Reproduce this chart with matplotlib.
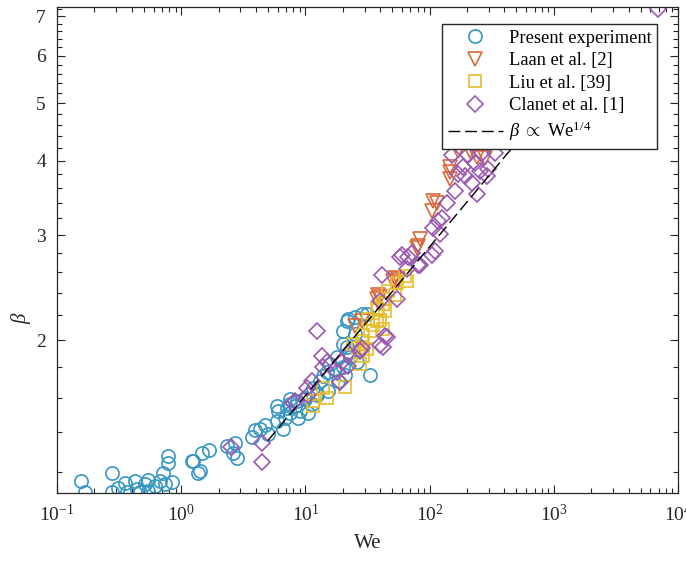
import numpy as np
import matplotlib
matplotlib.use("Agg")
import matplotlib.pyplot as plt
from matplotlib.ticker import LogLocator, NullFormatter

plt.rcParams["font.family"] = ["Liberation Serif", "DejaVu Serif"]
plt.rcParams["mathtext.fontset"] = "custom"
plt.rcParams["mathtext.rm"] = "Liberation Serif"
plt.rcParams["mathtext.it"] = "Liberation Serif:italic"
plt.rcParams["mathtext.bf"] = "Liberation Serif:bold"

# Present experiment (circles)
we_present = [0.155, 0.168, 0.275, 0.275, 0.31, 0.353, 0.364, 0.425, 0.44, 0.466,
              0.511, 0.54, 0.54, 0.615, 0.675, 0.713, 0.741, 0.84, 0.783, 0.783,
              1.22, 1.365, 1.245, 1.416, 1.46, 1.674, 2.33, 2.61, 2.79, 2.71,
              3.7, 3.93, 4.31, 4.73, 5.0, 5.9, 6.02, 6.6, 6.85, 7.52,
              8.25, 8.71, 7.52, 9.93, 10.5, 11.3, 12.4, 22.0, 28.6, 25.1,
              21.6, 17.9, 17.3, 14.9, 13.1, 11.5, 9.9, 8.5, 7.1, 20.8,
              22.9, 20.1, 26.0, 18.3, 15.2, 12.4, 9.05, 33.1, 31.3, 20.1,
              20.1, 15.8, 13.9, 5.9, 7.5, 21.6, 25.1]
beta_present = [1.158, 1.11, 1.195, 1.112, 1.13, 1.15, 1.11, 1.16, 1.125, 1.11,
                1.145, 1.165, 1.114, 1.136, 1.158, 1.195, 1.145, 1.155, 1.275, 1.243,
                1.255, 1.195, 1.255, 1.204, 1.29, 1.305, 1.326, 1.29, 1.266, 1.345,
                1.375, 1.41, 1.42, 1.44, 1.39, 1.46, 1.52, 1.42, 1.48, 1.51,
                1.55, 1.48, 1.59, 1.59, 1.51, 1.56, 1.62, 2.17, 2.21, 2.05,
                1.95, 1.87, 1.79, 1.77, 1.71, 1.66, 1.60, 1.58, 1.54, 1.75,
                1.87, 1.80, 1.84, 1.71, 1.64, 1.63, 1.52, 1.75, 2.21, 2.07,
                1.97, 1.82, 1.74, 1.55, 1.56, 2.15, 2.19]

# Laan et al. [2] (triangles)
we_laan = [80.7, 79, 52.6, 55.7, 39.9, 37.7, 28.6, 146, 146, 146,
           106, 115, 104, 241, 279, 83.7, 54.7, 50.7, 25.1, 38.4,
           29.0, 169, 210]
beta_laan = [2.88, 2.85, 2.54, 2.53, 2.36, 2.34, 2.15, 3.90, 3.83, 3.73,
             3.43, 3.40, 3.30, 4.06, 4.04, 2.96, 2.49, 2.51, 2.11, 2.38,
             1.92, 4.16, 4.16]

# Liu et al. [39] (squares)
we_liu = [29.1, 31.3, 27.5, 43.8, 37.7, 38.4, 20.8, 13.9, 11.5, 24.2,
          33.1, 42.2, 63.4, 65.8, 54.7, 46.2, 43.8, 37.7, 42.2, 39.9,
          31.9, 52.6, 35.0, 28.6, 26.5, 29.1, 14.9, 11.5]
beta_liu = [2.04, 1.93, 1.82, 2.24, 2.15, 2.25, 1.67, 1.66, 1.58, 1.97,
            2.07, 2.09, 2.56, 2.51, 2.49, 2.42, 2.34, 2.26, 2.30, 2.16,
            2.17, 2.38, 2.12, 1.99, 1.94, 1.88, 1.60, 1.55]

# Clanet et al. [1] (diamonds)
we_clanet = [2.5, 4.47, 4.47, 8.0, 10.5, 12.4, 13.6, 14.9, 19.7, 22.0,
             27.5, 39.9, 43.8, 42.2, 45.4, 11.3, 10.3, 17.9, 8.25, 39.9,
             13.9, 19.0, 28.6, 22.0, 60, 72, 80.7, 41.4, 65.8, 54.7,
             57.8, 67, 83.7, 106, 121, 110, 104, 151, 204, 264,
             336, 232, 255, 295, 290, 193, 219, 241, 160, 138,
             126, 117, 169, 186, 6900]
beta_clanet = [1.32, 1.345, 1.25, 1.57, 1.62, 2.07, 1.88, 1.84, 1.84, 1.81,
               1.92, 1.96, 2.03, 1.95, 2.02, 1.71, 1.66, 1.77, 1.58, 2.33,
               1.80, 1.70, 1.94, 1.90, 2.78, 2.80, 2.67, 2.57, 2.63, 2.34,
               2.76, 2.76, 2.67, 3.08, 3.01, 2.82, 2.78, 4.09, 4.09, 4.12,
               4.12, 3.97, 3.85, 3.88, 3.77, 3.77, 3.67, 3.52, 3.56, 3.40,
               3.21, 3.17, 3.80, 3.90, 7.2]

# scaling law beta ~ We^(1/4)
fit_we = np.logspace(np.log10(5), np.log10(1500), 50)
fit_coef = 0.907

c_present = "#3797c4"
c_laan = "#d96a3c"
c_liu = "#e6bd2c"
c_clanet = "#9a58b0"
ink = "#262626"

fig = plt.figure(figsize=(6.86, 5.64), dpi=100)
ax = fig.add_axes([0.0831, 0.1259, 0.9052, 0.8617])

mk = dict(linestyle="none", markerfacecolor="none", markeredgewidth=1.2)
ax.plot(we_present, beta_present, "o", color=c_present, markersize=9.5, label="Present experiment", **mk)
ax.plot(we_laan, beta_laan, "v", color=c_laan, markersize=10, label="Laan et al. [2]", **mk)
ax.plot(we_liu, beta_liu, "s", color=c_liu, markersize=8.5, label="Liu et al. [39]", **mk)
ax.plot(we_clanet, beta_clanet, "D", color=c_clanet, markersize=8.5, label="Clanet et al. [1]", **mk)
ax.plot(fit_we, fit_coef * fit_we ** 0.25, color="black", linewidth=1.0, dashes=(8.5, 3.5),
        label=r"$\beta\ \propto\ \mathrm{We}^{1/4}$")

ax.set_xscale("log")
ax.set_yscale("log")
ax.set_xlim(0.1, 1e4)
ax.set_ylim(1.107, 7.25)

ax.xaxis.set_major_locator(LogLocator(base=10, numticks=10))
ax.xaxis.set_minor_locator(LogLocator(base=10, subs=np.arange(2, 10), numticks=20))
ax.xaxis.set_minor_formatter(NullFormatter())

yticks = [2, 3, 4, 5, 6, 7]
yminor = [v for v in np.round(np.arange(1.2, 7.21, 0.2), 1) if v not in yticks]
ax.set_yticks(yticks)
ax.set_yticklabels([str(t) for t in yticks])
ax.set_yticks(yminor, minor=True)
ax.yaxis.set_minor_formatter(NullFormatter())

ax.tick_params(which="both", direction="in", top=True, right=True, colors=ink,
               labelsize=14, width=0.8)
ax.tick_params(which="major", length=6, pad=8)
ax.tick_params(which="minor", length=3.5)
for s in ax.spines.values():
    s.set_color(ink)
    s.set_linewidth(0.9)

ax.set_xlabel("We", fontsize=15, color=ink, labelpad=6)
ax.set_ylabel(r"$\beta$", fontsize=15, color=ink, labelpad=0)
ax.yaxis.set_label_coords(-0.038, 0.36)

leg = ax.legend(loc="upper right", bbox_to_anchor=(0.966, 0.965), borderaxespad=0,
                fontsize=13.3, frameon=True, fancybox=False, handlelength=3.0,
                handletextpad=0.3, labelspacing=0.3, borderpad=0.3)
leg.get_frame().set_edgecolor(ink)
leg.get_frame().set_linewidth(1.0)
leg.get_frame().set_alpha(1)

fig.savefig("out.png", dpi=100)
